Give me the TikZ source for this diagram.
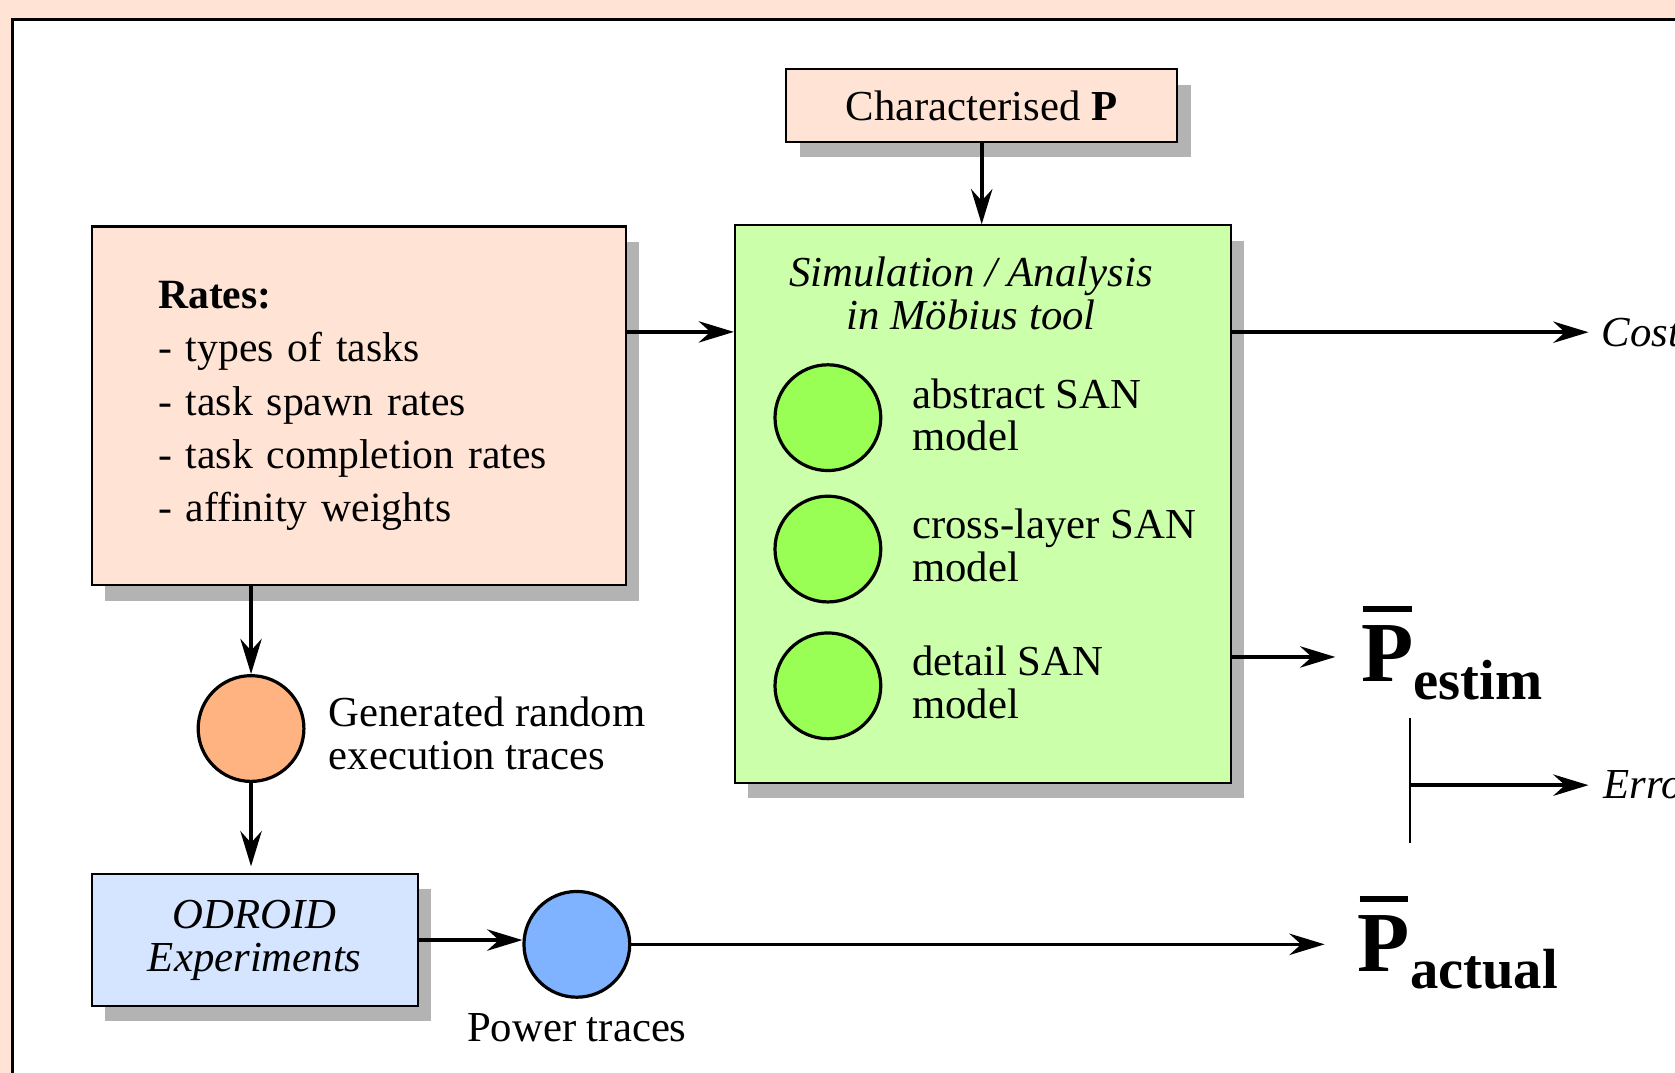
\documentclass[tikz,border=0pt]{standalone}
\usepackage{fontspec}
\setmainfont{Liberation Serif}
\usetikzlibrary{arrows.meta,shadows,calc}

\definecolor{peach}{RGB}{255,228,213}
\definecolor{simgreen}{RGB}{204,255,170}
\definecolor{ballgreen}{RGB}{153,255,85}
\definecolor{ballorange}{RGB}{255,179,128}
\definecolor{odroidblue}{RGB}{213,229,255}
\definecolor{ballblue}{RGB}{128,179,255}
\definecolor{shadowgray}{RGB}{179,179,179}

% mean power: bold P with a heavy bar and a bold subscript
\newcommand{\meanP}[1]{{\fontsize{40}{40}\selectfont\bfseries
  \rlap{\hspace{0.02em}\rule[0.81em]{0.57em}{0.07em}}P%
  \raisebox{-0.21em}{\fontsize{26.5}{26.5}\selectfont #1}}}

\begin{document}
\begin{tikzpicture}[x=0.5pt, y=-0.5pt,
  every node/.style={font=\fontsize{20}{20}\selectfont, inner sep=0pt},
  shadowed/.style={draw, line width=1pt,
    drop shadow={shadow xshift=6.3pt, shadow yshift=-7.1pt, fill=shadowgray, opacity=1}},
  ball/.style={circle, draw, line width=1.5pt, minimum size=49.5pt},
  sidetext/.style={anchor=west, align=left},
  flow/.style={line width=1.7pt, -{Stealth[length=16.5pt, width=10pt, inset=5.5pt]}},
  outtext/.style={anchor=west, font=\fontsize{20}{20}\selectfont\itshape}]

\clip (0,0) rectangle (1568,1004);

% page background and framed panel
\fill[peach] (0,0) rectangle (1568,1004);
\draw[fill=white, line width=1.3pt] (11.5,18) rectangle (1640,1080);

% characterised power input
\node[shadowed, fill=peach, minimum width=183pt, minimum height=34pt] (charp) at (919,99)
  {Characterised \textbf{P}};

% simulation / analysis block with its three SAN models
\node[shadowed, fill=simgreen, minimum width=232pt, minimum height=261pt] (sim) at (920,472) {};
\node[font=\fontsize{20}{20}\selectfont\itshape, align=center] (simtitle) at (909,275)
  {Simulation / Analysis\\in Möbius tool};

\node[ball, fill=ballgreen] (abs) at (775,391) {};
\node[sidetext] (abstxt) at ($(abs.east)+(13.8pt,1.3pt)$) {abstract SAN\\model};
\node[ball, fill=ballgreen] (cross) at (775,514) {};
\node[sidetext] (crosstxt) at ($(cross.east)+(13.8pt,1.6pt)$) {cross-layer SAN\\model};
\node[ball, fill=ballgreen] (detail) at (775,642) {};
\node[sidetext] (detailtxt) at ($(detail.east)+(13.8pt,1.6pt)$) {detail SAN\\model};

% rates block
\node[shadowed, fill=peach, minimum width=250pt, minimum height=168pt, text width=188pt,
  align=left, font=\fontsize{19.5}{25}\selectfont] (rates) at (336,380)
  {\textbf{Rates:}\\- types of tasks\\- task spawn rates\\- task completion rates\\- affinity weights};

% generated traces
\node[ball, fill=ballorange] (gen) at (235,682) {};
\node[sidetext] (gentxt) at ($(gen.east)+(10.7pt,-2.1pt)$) {Generated random\\execution traces};

% experiments on the board
\node[shadowed, fill=odroidblue, minimum width=152.5pt, minimum height=62pt,
  font=\fontsize{20}{20}\selectfont\itshape, align=center] (odroid) at (238.5,880)
  {ODROID\\Experiments};
\node[ball, fill=ballblue] (pwr) at (540,884) {};
\node[anchor=north] (pwrtxt) at ($(pwr.south)+(0,-6.5pt)$) {Power traces};

% outputs
\node[outtext] (cost) at (1499,311) {Cost};
\node[anchor=base west] (pest) at (1273.8,638) {\meanP{estim}};
\node[anchor=base west] (pact) at (1270.8,909) {\meanP{actual}};
\node[outtext] (err) at (1501,735) {Error};

% connectors
\coordinate (ratesout) at ($(rates.north east)!0.295!(rates.south east)$);
\coordinate (pestin) at ($(pest.base west)+(-11.9pt,11.5pt)$);
\coordinate (cmptop) at (1320,672);
\coordinate (cmpbot) at (1320,789);
\coordinate (cmpmid) at (1320,735);

\draw[flow] (charp.south) -- (charp.south |- sim.north);
\draw[flow] (ratesout) -- (ratesout -| sim.west);
\draw[flow, shorten >=6pt] (cost.west -| sim.east) -- (cost.west);
\draw[flow] (pestin -| sim.east) -- (pestin);
\draw[line width=1pt] (cmptop) -- (cmpbot);
\draw[flow, shorten >=7pt] (cmpmid) -- (err.west);
\draw[flow] (rates.south -| gen.north) -- (gen.north);
\draw[flow, shorten >=3pt] (gen.south) -- (gen.south |- odroid.north);
\draw[flow] (odroid.east) -- (odroid.east -| pwr.west);
\draw[flow, shorten >=15.4pt] (pwr.east) -- (pwr.east -| pact.west);
\end{tikzpicture}
\end{document}
